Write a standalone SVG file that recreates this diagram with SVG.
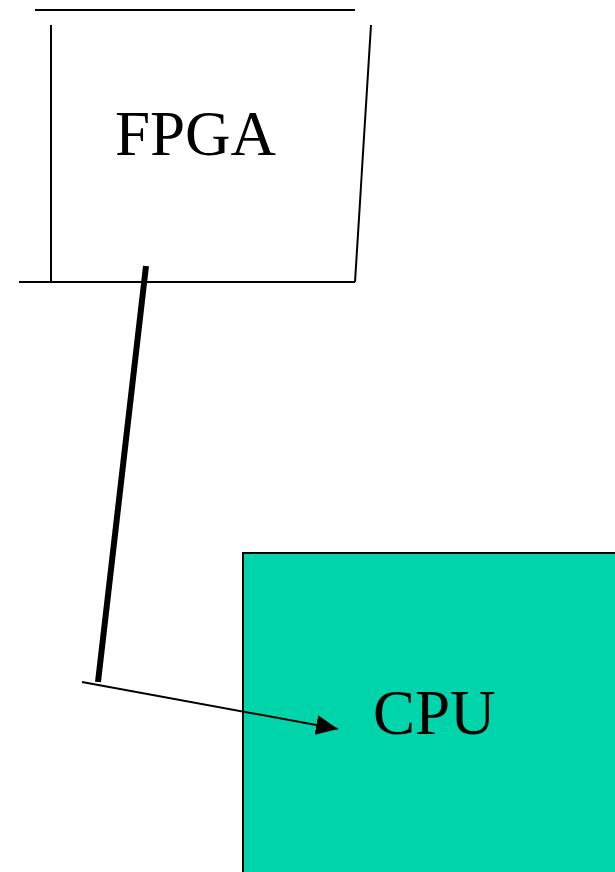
<svg xmlns="http://www.w3.org/2000/svg" width="615" height="872" viewBox="0 0 615 872">
<style>
.ln{stroke:#000;stroke-width:2;fill:none}
.lbl{font-family:"Liberation Serif","Times New Roman",serif;font-size:63px;fill:#000}
</style>
<defs>
<marker id="ah" markerWidth="10" markerHeight="10" refX="10" refY="5" orient="auto" markerUnits="userSpaceOnUse" viewBox="0 0 10 10">
<path d="M0,0 L10,5 L0,10 z" fill="#000"/>
</marker>
<marker id="ah2" markerWidth="22" markerHeight="20" refX="22" refY="10" orient="auto" markerUnits="userSpaceOnUse" viewBox="0 0 22 20">
<path d="M0,0 L22,10 L0,20 z" fill="#000"/>
</marker>
</defs>
<rect width="615" height="872" fill="#fff"/>
<g id="cpu">
<rect x="243" y="553" width="380" height="330" fill="#00d4ab" stroke="#000" stroke-width="2"/>
<text class="lbl" x="373" y="734">CPU</text>
</g>
<g id="fpga">
<line class="ln" x1="35" y1="10" x2="355" y2="10"/>
<line class="ln" x1="51" y1="25" x2="51" y2="282"/>
<line class="ln" x1="371" y1="25" x2="355" y2="282"/>
<line class="ln" x1="19" y1="282" x2="355" y2="282"/>
<text class="lbl" x="115" y="155">FPGA</text>
</g>
<g id="connectors">
<line x1="146" y1="266" x2="98" y2="682" stroke="#000" stroke-width="6"/>
<line x1="82" y1="682" x2="338" y2="729" stroke="#000" stroke-width="2" marker-end="url(#ah2)"/>
</g>
</svg>
